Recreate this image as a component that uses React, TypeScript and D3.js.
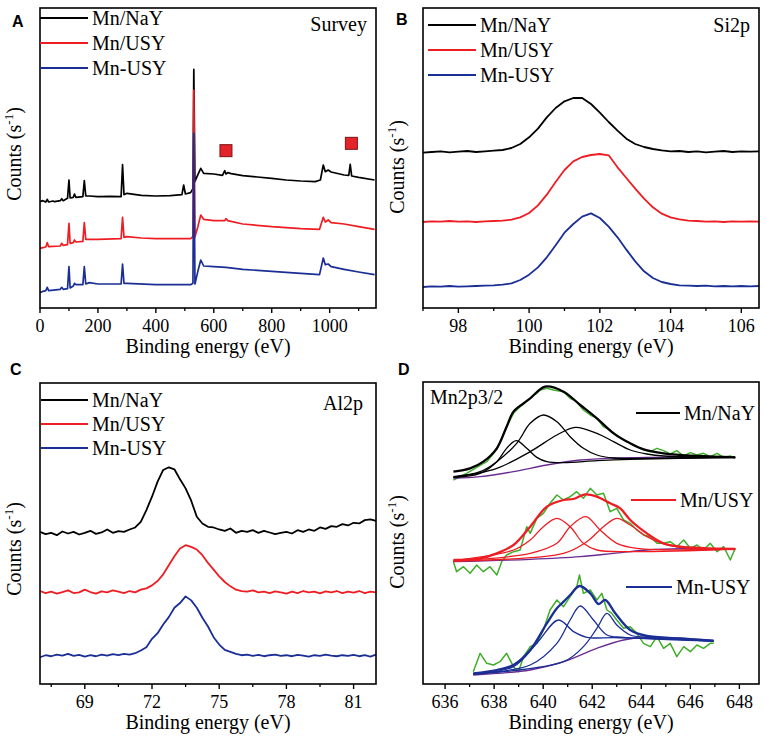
import * as d3 from "d3";
import React from "react";

type Pt = [number, number];

const sampleNames = ["Mn/NaY", "Mn/USY", "Mn-USY"];
const sampleColors = ["#000000", "#ee1d23", "#1a2e95"];
const rawGreen = "#3fae29";
const bgPurple = "#6a2c91";

// ---- A: survey (binding energy eV, counts a.u.) ----
const surveyNaY: Pt[] = [
  [0, 319], [10, 322], [20, 318], [25, 326], [30, 318], [45, 321], [50, 319], [70, 322], [75, 328], [80, 322],
  [95, 329], [100, 384], [104, 330], [115, 332], [119, 342], [124, 332], [148, 334], [153, 382], [158, 336],
  [170, 336], [200, 334], [240, 335], [280, 334], [285, 430], [290, 340], [300, 344], [350, 338], [400, 336],
  [450, 337], [490, 340], [496, 369], [502, 342], [520, 346], [528, 358], [531, 716], [535, 380], [545, 400],
  [555, 419], [565, 404], [600, 402], [630, 398], [638, 412], [642, 402], [648, 406], [660, 403], [700, 397],
  [750, 393], [800, 389], [850, 384], [900, 381], [950, 379], [968, 384], [978, 429], [985, 409], [995, 414],
  [1005, 408], [1050, 399], [1066, 398], [1071, 431], [1076, 396], [1100, 392], [1155, 384],
];
const surveyUSY: Pt[] = [
  [0, 179], [10, 181], [20, 183], [25, 196], [30, 184], [70, 186], [75, 194], [80, 188], [95, 190], [100, 254],
  [104, 194], [115, 196], [119, 204], [124, 198], [148, 200], [153, 256], [158, 206], [170, 206], [200, 206],
  [280, 208], [285, 272], [290, 212], [300, 214], [350, 210], [400, 208], [520, 208], [528, 214], [531, 654],
  [535, 214], [545, 244], [555, 279], [565, 266], [600, 262], [638, 262], [642, 268], [648, 262], [700, 252],
  [800, 244], [900, 238], [965, 236], [978, 272], [985, 258], [995, 264], [1005, 256], [1050, 252], [1100, 244],
  [1155, 236],
];
const surveyMnUSY: Pt[] = [
  [0, 46], [10, 50], [20, 52], [25, 62], [30, 52], [70, 56], [75, 62], [80, 56], [95, 58], [100, 124], [104, 60],
  [115, 66], [119, 74], [124, 70], [148, 70], [153, 124], [158, 72], [170, 76], [200, 72], [280, 72], [285, 132],
  [290, 74], [300, 74], [400, 70], [520, 70], [528, 74], [531, 524], [535, 72], [545, 110], [555, 144], [565, 126],
  [600, 124], [642, 122], [700, 116], [800, 110], [900, 104], [965, 100], [978, 150], [985, 130], [995, 132],
  [1005, 124], [1050, 116], [1100, 108], [1155, 100],
];
const surveyMarks: Pt[] = [[642, 472], [1075, 494]];
const surveyTicks = [0, 200, 400, 600, 800, 1000];
const surveyMinor = [100, 300, 500, 700, 900, 1100];

// ---- B: Si2p (0.25 eV steps from 97 eV) ----
const si2pStart = 97;
const si2pStep = 0.25;
const si2pNaY = [
  466, 468, 470, 467, 469, 471, 468, 470, 472, 474, 480, 492, 512, 538, 572, 600, 620, 630, 630, 612,
  586, 558, 532, 508, 492, 483, 477, 473, 470, 471, 468, 470, 467, 469, 471, 468, 470, 469, 470,
];
const si2pUSY = [
  258, 260, 259, 261, 259, 260, 258, 260, 261, 262, 265, 272, 285, 308, 340, 378, 414, 440, 453, 459,
  462, 458, 422, 390, 358, 328, 302, 283, 272, 266, 262, 261, 259, 260, 258, 260, 259, 260, 259,
];
const si2pMnUSY = [
  63, 65, 64, 66, 64, 65, 66, 67, 68, 70, 74, 84, 100, 122, 152, 188, 226, 252, 274, 284,
  270, 244, 212, 175, 140, 110, 90, 78, 72, 68, 67, 66, 67, 65, 66, 65, 66, 65, 66,
];
const si2pTicks = [98, 100, 102, 104, 106];
const si2pMinor = [97, 99, 101, 103, 105];

// ---- C: Al2p (0.25 eV steps from 67 eV) ----
const al2pStart = 67;
const al2pStep = 0.25;
const al2pNaY = [
  455, 448, 452, 445, 456, 450, 455, 447, 452, 458, 449, 453, 462, 452, 457, 455, 462, 468, 485, 520,
  560, 605, 640, 648, 642, 612, 585, 548, 500, 480, 470, 468, 462, 458, 465, 452, 458, 455, 460, 452,
  458, 453, 448, 452, 455, 450, 460, 455, 462, 458, 468, 464, 472, 470, 478, 474, 482, 480, 490, 492, 488,
];
const al2pUSY = [
  278, 272, 276, 270, 275, 280, 272, 274, 282, 275, 270, 277, 274, 280, 276, 272, 278, 274, 282, 286,
  295, 308, 328, 355, 382, 405, 415, 410, 402, 385, 362, 342, 322, 305, 292, 282, 278, 276, 280, 274,
  276, 272, 277, 274, 270, 276, 272, 278, 274, 276, 271, 277, 274, 278, 272, 276, 273, 278, 272, 276, 274,
];
const al2pMnUSY = [
  80, 86, 83, 88, 85, 90, 84, 87, 82, 86, 83, 88, 85, 89, 86, 90, 88, 92, 100, 110,
  135, 152, 178, 200, 228, 242, 262, 250, 228, 198, 172, 140, 118, 102, 96, 90, 86, 88, 84, 87,
  83, 86, 88, 84, 86, 83, 87, 85, 82, 86, 84, 88, 85, 83, 86, 84, 87, 83, 86, 82, 88,
];
const al2pTicks = [69, 72, 75, 78, 81];
const al2pMinor = [67.5, 70.5, 73.5, 76.5, 79.5];

// ---- D: Mn2p3/2 raw data, peak fits, background ----
const mnNaYRaw: Pt[] = [
  [636.34, 612], [636.61, 622], [636.88, 632], [637.29, 650], [637.7, 667], [638.11, 704], [638.51, 772],
  [638.79, 812], [639.06, 832], [639.47, 857], [639.6, 867], [639.74, 872], [639.88, 882], [640.15, 887],
  [640.42, 882], [640.83, 877], [641.1, 857], [641.37, 847], [641.64, 822], [641.92, 807], [642.19, 797],
  [642.46, 772], [642.73, 762], [643.0, 747], [643.28, 732], [643.55, 722], [643.82, 712], [644.09, 704],
  [644.37, 697], [644.64, 707], [644.91, 700], [645.18, 690], [645.45, 700], [645.73, 684], [646.0, 694],
  [646.27, 687], [646.54, 692], [646.81, 682], [647.09, 692], [647.36, 680], [647.63, 684], [647.83, 677],
];
const mnNaYBg: Pt[] = [
  [636.34, 617], [637.43, 622], [638.79, 637], [640.15, 657], [641.51, 672], [642.87, 678], [644.23, 680], [647.83, 680],
];
const mnNaYPeaks: Pt[][] = [
  [[636.34, 620], [637.43, 632], [638.11, 667], [638.51, 707], [638.9, 730], [639.33, 707], [639.74, 680],
    [640.15, 667], [640.83, 664], [642.19, 670], [643.55, 674], [647.83, 680]],
  [[636.34, 622], [637.43, 637], [638.11, 667], [638.92, 722], [639.47, 782], [640.01, 807], [640.56, 787],
    [641.1, 742], [641.64, 707], [642.19, 687], [642.87, 678], [644.23, 677], [647.83, 680]],
  [[636.34, 620], [638.11, 647], [639.47, 697], [640.56, 747], [641.31, 770], [642.19, 752], [642.87, 727],
    [643.55, 702], [644.23, 690], [644.91, 684], [647.83, 680]],
];
const mnNaYEnv: Pt[] = [
  [636.34, 637], [637.02, 647], [637.56, 667], [638.11, 707], [638.51, 772], [638.79, 817], [639.2, 842],
  [639.47, 857], [640.08, 892], [640.83, 877], [641.51, 837], [642.19, 797], [642.87, 752], [643.55, 722],
  [644.09, 704], [644.91, 692], [646.27, 684], [647.83, 680],
];

const mnUSYRaw: Pt[] = [
  [636.34, 367], [636.47, 337], [636.75, 352], [637.02, 332], [637.29, 357], [637.56, 337], [637.83, 352],
  [638.11, 327], [638.31, 367], [638.51, 387], [638.79, 397], [639.06, 402], [639.33, 472], [639.47, 452],
  [639.74, 497], [640.01, 512], [640.28, 542], [640.56, 567], [640.83, 552], [641.1, 562], [641.37, 577],
  [641.64, 557], [641.92, 587], [642.19, 567], [642.46, 572], [642.73, 517], [643.0, 527], [643.28, 492],
  [643.55, 482], [643.82, 462], [644.09, 447], [644.37, 442], [644.64, 422], [644.91, 422], [645.18, 427],
  [645.45, 412], [645.73, 432], [646.0, 407], [646.27, 417], [646.54, 402], [646.81, 422], [647.09, 397],
  [647.36, 412], [647.63, 372], [647.83, 407],
];
const mnUSYBg: Pt[] = [
  [636.34, 367], [639.47, 374], [641.51, 382], [642.87, 392], [644.23, 402], [645.59, 406], [647.83, 405],
];
const mnUSYPeaks: Pt[][] = [
  [[636.34, 370], [638.79, 402], [639.47, 432], [640.01, 472], [640.56, 497], [641.1, 472], [641.64, 422],
    [642.19, 402], [643.55, 397], [647.83, 405]],
  [[636.34, 369], [639.47, 392], [640.56, 422], [641.1, 472], [641.74, 502], [642.32, 462], [643.0, 422],
    [643.82, 407], [647.83, 405]],
  [[636.34, 369], [640.83, 392], [641.78, 427], [642.46, 472], [643.0, 497], [643.55, 477], [644.23, 442],
    [644.91, 420], [645.59, 410], [647.83, 405]],
];
const mnUSYEnv: Pt[] = [
  [636.34, 372], [637.43, 377], [638.11, 392], [638.79, 417], [639.47, 472], [640.15, 532], [640.83, 552],
  [641.24, 555], [641.71, 569], [642.19, 562], [642.73, 542], [643.14, 527], [643.55, 492], [644.23, 452],
  [644.91, 422], [645.59, 412], [647.83, 405],
];

const mnMnUSYRaw: Pt[] = [
  [637.15, 37], [637.43, 92], [637.7, 62], [637.97, 57], [638.24, 67], [638.51, 92], [638.79, 52],
  [638.99, 37], [639.2, 82], [639.47, 112], [639.74, 122], [640.01, 162], [640.28, 222], [640.56, 252],
  [640.83, 232], [641.1, 262], [641.37, 292], [641.48, 327], [641.64, 272], [641.92, 282], [642.19, 252],
  [642.39, 272], [642.6, 222], [642.8, 212], [643.0, 192], [643.28, 167], [643.55, 172], [643.82, 152],
  [644.09, 122], [644.37, 112], [644.64, 142], [644.91, 107], [645.18, 122], [645.45, 82], [645.73, 112],
  [646.0, 97], [646.27, 117], [646.54, 107], [646.81, 122], [646.95, 122],
];
const mnMnUSYBg: Pt[] = [
  [637.15, 27], [639.47, 42], [640.83, 67], [642.19, 107], [643.28, 132], [644.23, 140], [646.95, 130],
];
const mnMnUSYPeaks: Pt[][] = [
  [[637.15, 30], [638.79, 52], [639.74, 122], [640.62, 192], [641.24, 157], [641.78, 140], [642.87, 139],
    [644.23, 137], [646.95, 129]],
  [[637.15, 30], [639.47, 57], [640.56, 122], [641.1, 192], [641.51, 234], [642.05, 192], [642.6, 147],
    [643.28, 140], [646.95, 129]],
  [[637.15, 29], [640.83, 67], [641.64, 112], [642.19, 167], [642.6, 212], [643.0, 177], [643.55, 147],
    [644.23, 140], [646.95, 129]],
];
const mnMnUSYEnv: Pt[] = [
  [637.15, 32], [638.11, 42], [638.79, 57], [639.47, 102], [640.15, 182], [640.56, 227], [640.83, 247],
  [641.1, 267], [641.48, 294], [641.92, 272], [642.26, 240], [642.53, 252], [642.94, 212], [643.55, 162],
  [644.23, 144], [645.59, 137], [646.95, 130],
];
const mnTicks = [636, 638, 640, 642, 644, 646, 648];
const mnMinor = [637, 639, 641, 643, 645, 647];

// ---------------------------------------------------------------

const serif = "'Liberation Serif', 'Times New Roman', serif";
const sans = "'Liberation Sans', Arial, sans-serif";

type Box = { x0: number; x1: number; y0: number; y1: number };

const boxA: Box = { x0: 40, x1: 376, y0: 8, y1: 308 };
const boxB: Box = { x0: 423, x1: 759, y0: 8, y1: 308 };
const boxC: Box = { x0: 40, x1: 376, y0: 383, y1: 684 };
const boxD: Box = { x0: 423, x1: 759, y0: 382, y1: 684 };

const gridPts = (start: number, step: number, vals: number[]): Pt[] => vals.map((v, i) => [start + i * step, v]);

const Frame = ({ box, x, ticks, minor, letter, letterX, letterY, yTitleY }: any) => (
  <g fontFamily={serif}>
    {minor.map((t: number) => (
      <line key={"m" + t} x1={x(t)} x2={x(t)} y1={box.y1} y2={box.y1 + 3} stroke="#000" strokeWidth={1.3} />
    ))}
    {ticks.map((t: number) => (
      <g key={t}>
        <line x1={x(t)} x2={x(t)} y1={box.y1} y2={box.y1 + 5} stroke="#000" strokeWidth={1.4} />
        <text x={x(t)} y={box.y1 + 24} textAnchor="middle" fontSize={18}>{t}</text>
      </g>
    ))}
    <rect x={box.x0} y={box.y0} width={box.x1 - box.x0} height={box.y1 - box.y0} fill="none" stroke="#000" strokeWidth={1.6} />
    <text x={(box.x0 + box.x1) / 2} y={box.y1 + 45} textAnchor="middle" fontSize={20}>Binding energy (eV)</text>
    <text transform={`translate(${box.x0 - 19},${yTitleY}) rotate(-90)`} textAnchor="middle" fontSize={20}>
      Counts (s<tspan dy={-8} fontSize={13}>-1</tspan><tspan dy={8}>)</tspan>
    </text>
    <text x={letterX} y={letterY} fontFamily={sans} fontWeight="bold" fontSize={16}>{letter}</text>
  </g>
);

const Legend = ({ rows }: { rows: { x1: number; x2: number; y: number }[] }) => (
  <g fontFamily={serif} fontSize={20}>
    {rows.map((r, i) => (
      <g key={sampleNames[i]}>
        <line x1={r.x1} x2={r.x2} y1={r.y} y2={r.y} stroke={sampleColors[i]} strokeWidth={2} />
        <text x={r.x2 + 4} y={r.y + 7}>{sampleNames[i]}</text>
      </g>
    ))}
  </g>
);

export default function App() {
  const xA = d3.scaleLinear().domain([0, 1160]).range([boxA.x0, boxA.x1]);
  const yA = d3.scaleLinear().domain([0, 900]).range([boxA.y1, boxA.y0]);
  const xB = d3.scaleLinear().domain([97, 106.5]).range([boxB.x0, boxB.x1]);
  const yB = d3.scaleLinear().domain([0, 900]).range([boxB.y1, boxB.y0]);
  const xC = d3.scaleLinear().domain([67, 82]).range([boxC.x0, boxC.x1]);
  const yC = d3.scaleLinear().domain([0, 900]).range([boxC.y1, boxC.y0]);
  const xD = d3.scaleLinear().domain([635.1, 648.8]).range([boxD.x0, boxD.x1]);
  const yD = d3.scaleLinear().domain([0, 906]).range([boxD.y1, boxD.y0]);

  const lineOf = (x: any, y: any, curve: any = d3.curveLinear) =>
    d3.line<Pt>().x((d) => x(d[0])).y((d) => y(d[1])).curve(curve);

  const lA = lineOf(xA, yA);
  const lB = lineOf(xB, yB);
  const lC = lineOf(xC, yC);
  const lD = lineOf(xD, yD);
  const fitD = lineOf(xD, yD, d3.curveCatmullRom.alpha(0.5));

  const survey = [surveyNaY, surveyUSY, surveyMnUSY];
  const si2p = [si2pNaY, si2pUSY, si2pMnUSY].map((v) => gridPts(si2pStart, si2pStep, v));
  const al2p = [al2pNaY, al2pUSY, al2pMnUSY].map((v) => gridPts(al2pStart, al2pStep, v));
  const mn = [
    { raw: mnNaYRaw, bg: mnNaYBg, peaks: mnNaYPeaks, env: mnNaYEnv },
    { raw: mnUSYRaw, bg: mnUSYBg, peaks: mnUSYPeaks, env: mnUSYEnv },
    { raw: mnMnUSYRaw, bg: mnMnUSYBg, peaks: mnMnUSYPeaks, env: mnMnUSYEnv },
  ];

  return (
    <svg width={766} height={742} style={{ display: "block", position: "absolute", left: 0, top: 0, background: "#fff" }}>
      {/* A */}
      {survey.map((s, i) => (
        <path key={i} d={lA(s) || ""} fill="none" stroke={sampleColors[i]} strokeWidth={1.7} strokeLinejoin="round" />
      ))}
      {surveyMarks.map((m, i) => (
        <rect key={i} x={xA(m[0]) - 6} y={yA(m[1]) - 6} width={12} height={12} fill="#e5232b" stroke="#7a1515" strokeWidth={1} />
      ))}
      <Frame box={boxA} x={xA} ticks={surveyTicks} minor={surveyMinor} letter="A" letterX={12} letterY={27} yTitleY={154} />
      <Legend rows={[{ x1: 40, x2: 88, y: 18 }, { x1: 40, x2: 88, y: 43 }, { x1: 40, x2: 88, y: 68 }]} />
      <text x={367} y={31} textAnchor="end" fontFamily={serif} fontSize={20}>Survey</text>

      {/* B */}
      {si2p.map((s, i) => (
        <path key={i} d={lB(s) || ""} fill="none" stroke={sampleColors[i]} strokeWidth={1.8} strokeLinejoin="round" />
      ))}
      <Frame box={boxB} x={xB} ticks={si2pTicks} minor={si2pMinor} letter="B" letterX={396} letterY={25} yTitleY={167} />
      <Legend rows={[{ x1: 428, x2: 476, y: 25 }, { x1: 428, x2: 476, y: 50 }, { x1: 428, x2: 476, y: 75 }]} />
      <text x={750} y={32} textAnchor="end" fontFamily={serif} fontSize={20}>Si2p</text>

      {/* C */}
      {al2p.map((s, i) => (
        <path key={i} d={lC(s) || ""} fill="none" stroke={sampleColors[i]} strokeWidth={1.8} strokeLinejoin="round" />
      ))}
      <Frame box={boxC} x={xC} ticks={al2pTicks} minor={al2pMinor} letter="C" letterX={10} letterY={375} yTitleY={549} />
      <Legend rows={[{ x1: 41, x2: 88, y: 400 }, { x1: 41, x2: 88, y: 424 }, { x1: 41, x2: 88, y: 448 }]} />
      <text x={363} y={410} textAnchor="end" fontFamily={serif} fontSize={20}>Al2p</text>

      {/* D */}
      {mn.map((m, i) => (
        <g key={i} fill="none" strokeLinejoin="round">
          <path d={lD(m.raw) || ""} stroke={rawGreen} strokeWidth={1.5} />
          <path d={fitD(m.bg) || ""} stroke={bgPurple} strokeWidth={1.3} />
          {m.peaks.map((p, j) => (
            <path key={j} d={fitD(p) || ""} stroke={sampleColors[i]} strokeWidth={1.3} />
          ))}
          <path d={fitD(m.env) || ""} stroke={sampleColors[i]} strokeWidth={2.3} />
        </g>
      ))}
      <Frame box={boxD} x={xD} ticks={mnTicks} minor={mnMinor} letter="D" letterX={398} letterY={375} yTitleY={542} />
      <Legend rows={[{ x1: 636, x2: 680, y: 413 }, { x1: 631, x2: 676, y: 500 }, { x1: 626, x2: 672, y: 587 }]} />
      <text x={430} y={404} fontFamily={serif} fontSize={20}>Mn2p3/2</text>
    </svg>
  );
}
